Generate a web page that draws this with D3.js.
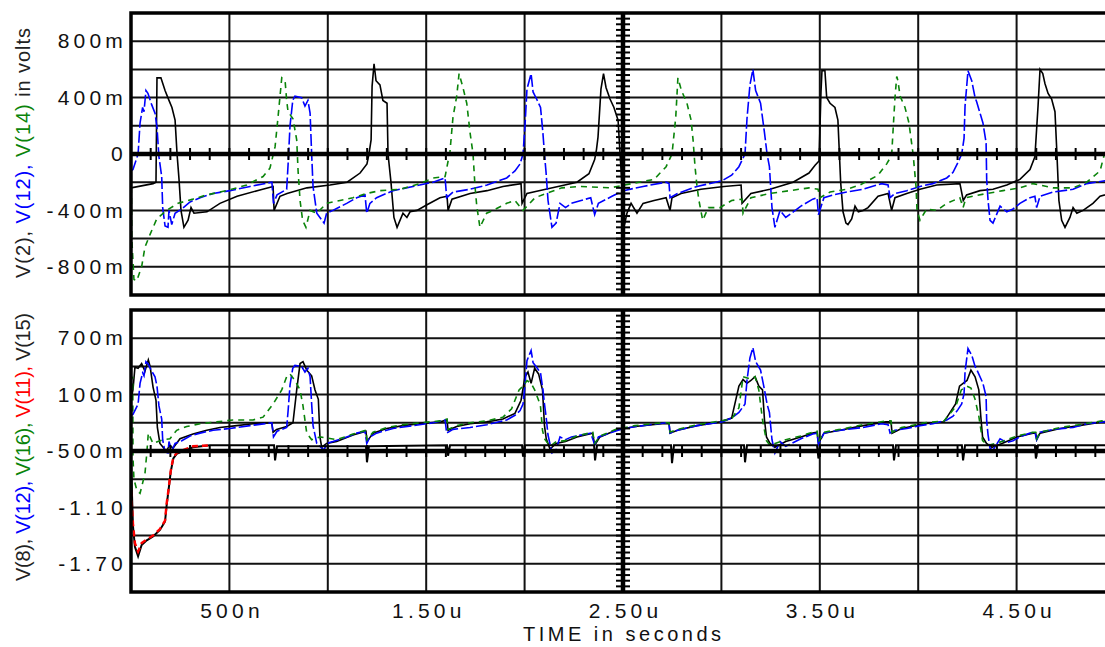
<!DOCTYPE html>
<html>
<head>
<meta charset="utf-8">
<script src="https://cdn.jsdelivr.net/npm/d3@7/dist/d3.min.js"></script>
<style>
body { margin: 0; background: #fff; }
svg { display: block; font-family: "Liberation Sans", Arial, sans-serif; }
</style>
</head>
<body>
<svg id="chart"></svg>
<script>
// time in microseconds, values in volts
const v2 = [[0,-0.24],[0.112,-0.21],[0.127,-0.20],[0.132,0.54],[0.152,0.54],[0.173,0.45],[0.193,0.38],[0.208,0.33],[0.224,0.24],[0.234,0.0],[0.244,-0.18],[0.254,-0.40],[0.269,-0.52],[0.290,-0.47],[0.305,-0.38],[0.320,-0.42],[0.386,-0.41],[0.452,-0.35],[0.539,-0.30],[0.655,-0.255],[0.722,-0.23],[0.727,-0.40],[0.757,-0.30],[0.793,-0.28],[0.894,-0.24],[1.011,-0.22],[1.098,-0.20],[1.164,-0.135],[1.199,-0.07],[1.209,0.0],[1.220,0.10],[1.225,0.48],[1.235,0.64],[1.245,0.52],[1.265,0.49],[1.280,0.38],[1.301,0.36],[1.306,0.0],[1.321,-0.20],[1.336,-0.45],[1.352,-0.52],[1.382,-0.42],[1.402,-0.45],[1.418,-0.41],[1.453,-0.40],[1.504,-0.36],[1.570,-0.31],[1.606,-0.30],[1.611,-0.40],[1.631,-0.32],[1.723,-0.28],[1.809,-0.26],[1.890,-0.23],[1.982,-0.21],[1.987,-0.35],[2.012,-0.28],[2.073,-0.26],[2.170,-0.23],[2.266,-0.20],[2.327,-0.14],[2.356,-0.04],[2.365,0.03],[2.373,0.12],[2.388,0.46],[2.401,0.57],[2.414,0.47],[2.434,0.39],[2.454,0.33],[2.475,0.24],[2.485,0.0],[2.500,-0.33],[2.508,-0.50],[2.520,-0.42],[2.541,-0.35],[2.571,-0.42],[2.602,-0.35],[2.658,-0.33],[2.719,-0.31],[2.739,-0.40],[2.749,-0.31],[2.795,-0.28],[2.896,-0.25],[3.013,-0.23],[3.100,-0.22],[3.105,-0.35],[3.150,-0.28],[3.247,-0.25],[3.364,-0.20],[3.445,-0.135],[3.476,-0.08],[3.496,-0.05],[3.506,0.44],[3.511,0.59],[3.526,0.59],[3.535,0.40],[3.552,0.36],[3.577,0.33],[3.592,0.24],[3.606,-0.20],[3.618,-0.41],[3.633,-0.49],[3.643,-0.50],[3.662,-0.46],[3.679,-0.37],[3.696,-0.41],[3.720,-0.40],[3.745,-0.38],[3.796,-0.30],[3.847,-0.28],[3.865,-0.40],[3.882,-0.31],[3.942,-0.28],[4.009,-0.25],[4.094,-0.22],[4.212,-0.21],[4.229,-0.33],[4.246,-0.29],[4.314,-0.26],[4.380,-0.25],[4.450,-0.22],[4.517,-0.18],[4.568,-0.11],[4.593,-0.02],[4.609,0.34],[4.619,0.60],[4.633,0.57],[4.644,0.50],[4.660,0.43],[4.678,0.39],[4.695,0.30],[4.704,0.03],[4.715,-0.33],[4.729,-0.47],[4.746,-0.52],[4.771,-0.45],[4.787,-0.38],[4.806,-0.42],[4.838,-0.40],[4.888,-0.35],[4.924,-0.30],[5.0,-0.27]];

const v12 = [[0,-0.12],[0.010,-0.11],[0.036,0.0],[0.046,0.22],[0.059,0.33],[0.066,0.30],[0.076,0.45],[0.086,0.43],[0.105,0.35],[0.122,0.29],[0.132,0.19],[0.142,-0.02],[0.156,-0.16],[0.161,-0.38],[0.173,-0.51],[0.188,-0.52],[0.193,-0.40],[0.207,-0.50],[0.224,-0.42],[0.258,-0.39],[0.300,-0.34],[0.351,-0.31],[0.417,-0.28],[0.503,-0.26],[0.605,-0.23],[0.716,-0.20],[0.724,-0.35],[0.742,-0.29],[0.791,-0.25],[0.798,-0.08],[0.808,0.20],[0.822,0.38],[0.833,0.41],[0.867,0.40],[0.884,0.34],[0.899,0.38],[0.910,0.29],[0.918,0.0],[0.925,-0.23],[0.944,-0.42],[0.960,-0.45],[0.981,-0.49],[0.994,-0.42],[1.026,-0.40],[1.096,-0.35],[1.147,-0.31],[1.189,-0.29],[1.198,-0.42],[1.214,-0.35],[1.248,-0.31],[1.331,-0.26],[1.433,-0.23],[1.535,-0.20],[1.596,-0.17],[1.604,-0.31],[1.636,-0.27],[1.723,-0.25],[1.809,-0.22],[1.909,-0.17],[1.951,-0.12],[1.977,-0.07],[1.992,0.0],[2.002,0.20],[2.012,0.46],[2.033,0.57],[2.043,0.44],[2.061,0.39],[2.081,0.33],[2.093,0.15],[2.101,0.0],[2.109,-0.13],[2.119,-0.33],[2.139,-0.52],[2.160,-0.49],[2.180,-0.35],[2.208,-0.38],[2.238,-0.35],[2.287,-0.33],[2.336,-0.31],[2.356,-0.43],[2.375,-0.35],[2.444,-0.30],[2.503,-0.26],[2.602,-0.23],[2.719,-0.20],[2.734,-0.21],[2.739,-0.31],[2.777,-0.28],[2.876,-0.23],[3.003,-0.19],[3.052,-0.15],[3.089,-0.09],[3.120,0.0],[3.130,0.25],[3.145,0.49],[3.160,0.60],[3.174,0.45],[3.199,0.36],[3.219,0.15],[3.232,0.0],[3.244,-0.09],[3.257,-0.38],[3.272,-0.52],[3.298,-0.40],[3.327,-0.45],[3.404,-0.37],[3.464,-0.32],[3.486,-0.31],[3.493,-0.43],[3.521,-0.31],[3.567,-0.29],[3.637,-0.27],[3.720,-0.25],[3.814,-0.21],[3.847,-0.22],[3.857,-0.31],[3.882,-0.28],[3.942,-0.26],[4.009,-0.23],[4.075,-0.21],[4.145,-0.17],[4.177,-0.13],[4.202,-0.06],[4.221,0.0],[4.233,0.11],[4.238,0.34],[4.253,0.59],[4.272,0.52],[4.289,0.40],[4.297,0.37],[4.329,0.22],[4.345,0.08],[4.348,-0.18],[4.355,-0.33],[4.365,-0.47],[4.380,-0.49],[4.416,-0.37],[4.450,-0.41],[4.482,-0.39],[4.517,-0.35],[4.568,-0.31],[4.593,-0.30],[4.602,-0.38],[4.619,-0.30],[4.685,-0.27],[4.787,-0.25],[4.856,-0.21],[4.949,-0.19],[5.0,-0.18]];

const v14 = [[0,0.0],[0.004,-0.60],[0.015,-0.89],[0.029,-0.90],[0.054,-0.80],[0.071,-0.66],[0.097,-0.57],[0.131,-0.46],[0.181,-0.40],[0.239,-0.35],[0.315,-0.32],[0.385,-0.29],[0.486,-0.26],[0.588,-0.22],[0.671,-0.16],[0.706,-0.10],[0.732,0.05],[0.747,0.26],[0.766,0.54],[0.783,0.52],[0.791,0.38],[0.798,0.30],[0.823,0.25],[0.842,0.10],[0.849,-0.12],[0.859,-0.33],[0.872,-0.47],[0.889,-0.52],[0.910,-0.40],[0.944,-0.42],[0.994,-0.35],[1.062,-0.33],[1.128,-0.31],[1.198,-0.28],[1.265,-0.26],[1.367,-0.25],[1.468,-0.21],[1.535,-0.17],[1.596,-0.16],[1.621,0.02],[1.636,0.26],[1.655,0.41],[1.667,0.57],[1.687,0.47],[1.706,0.36],[1.723,0.15],[1.738,0.0],[1.748,-0.23],[1.757,-0.37],[1.773,-0.52],[1.807,-0.42],[1.839,-0.40],[1.909,-0.35],[1.951,-0.33],[1.992,-0.40],[2.053,-0.31],[2.109,-0.28],[2.190,-0.24],[2.287,-0.23],[2.434,-0.24],[2.658,-0.18],[2.719,-0.09],[2.749,0.0],[2.768,0.26],[2.779,0.54],[2.797,0.45],[2.825,0.36],[2.846,0.24],[2.856,0.10],[2.866,-0.09],[2.876,-0.23],[2.886,-0.33],[2.905,-0.47],[2.934,-0.38],[2.993,-0.38],[3.052,-0.33],[3.105,-0.32],[3.110,-0.42],[3.150,-0.31],[3.247,-0.28],[3.347,-0.26],[3.445,-0.24],[3.491,-0.25],[3.501,-0.31],[3.552,-0.27],[3.637,-0.25],[3.704,-0.22],[3.796,-0.15],[3.840,-0.07],[3.865,-0.01],[3.872,0.16],[3.882,0.40],[3.891,0.55],[3.897,0.52],[3.908,0.41],[3.933,0.33],[3.953,0.22],[3.974,0.0],[3.989,-0.23],[3.994,-0.40],[4.009,-0.47],[4.043,-0.39],[4.094,-0.40],[4.145,-0.35],[4.212,-0.31],[4.228,-0.38],[4.243,-0.31],[4.348,-0.28],[4.431,-0.26],[4.517,-0.24],[4.583,-0.21],[4.685,-0.24],[4.787,-0.24],[4.856,-0.20],[4.924,-0.12],[4.965,0.10],[5.0,0.40]];

const v8 = [[0,0.05],[0.010,0.15],[0.020,0.39],[0.036,0.38],[0.054,0.43],[0.071,0.35],[0.088,0.47],[0.097,0.40],[0.112,0.18],[0.127,0.04],[0.134,-0.25],[0.147,-0.42],[0.163,-0.46],[0.178,-0.50],[0.198,-0.44],[0.213,-0.47],[0.249,-0.37],[0.315,-0.32],[0.385,-0.28],[0.452,-0.25],[0.537,-0.23],[0.620,-0.21],[0.715,-0.20],[0.722,-0.30],[0.740,-0.27],[0.791,-0.24],[0.823,-0.20],[0.842,0.15],[0.859,0.43],[0.874,0.45],[0.893,0.36],[0.918,0.30],[0.935,0.15],[0.952,0.05],[0.960,-0.35],[0.969,-0.46],[0.994,-0.42],[1.045,-0.40],[1.128,-0.33],[1.194,-0.29],[1.199,-0.40],[1.230,-0.31],[1.299,-0.26],[1.382,-0.23],[1.468,-0.21],[1.570,-0.19],[1.606,-0.17],[1.611,-0.28],[1.655,-0.24],[1.723,-0.21],[1.807,-0.19],[1.890,-0.16],[1.951,-0.10],[1.982,0.04],[2.002,0.29],[2.017,0.34],[2.033,0.22],[2.051,0.38],[2.071,0.32],[2.091,0.15],[2.101,-0.23],[2.110,-0.37],[2.129,-0.48],[2.160,-0.42],[2.208,-0.40],[2.266,-0.35],[2.346,-0.31],[2.356,-0.44],[2.383,-0.35],[2.464,-0.28],[2.561,-0.24],[2.698,-0.21],[2.734,-0.21],[2.739,-0.31],[2.777,-0.28],[2.876,-0.23],[2.993,-0.19],[3.052,-0.15],[3.089,0.19],[3.110,0.26],[3.130,0.22],[3.150,0.25],[3.171,0.29],[3.190,0.19],[3.209,0.15],[3.219,-0.17],[3.229,-0.35],[3.247,-0.42],[3.272,-0.46],[3.327,-0.40],[3.404,-0.35],[3.464,-0.31],[3.486,-0.30],[3.493,-0.42],[3.521,-0.31],[3.602,-0.28],[3.720,-0.23],[3.836,-0.19],[3.862,-0.19],[3.867,-0.31],[3.915,-0.26],[4.033,-0.21],[4.131,-0.19],[4.190,0.0],[4.210,0.19],[4.228,0.22],[4.248,0.25],[4.268,0.36],[4.289,0.29],[4.308,0.15],[4.318,-0.13],[4.327,-0.35],[4.347,-0.42],[4.375,-0.46],[4.426,-0.42],[4.502,-0.35],[4.583,-0.31],[4.597,-0.31],[4.602,-0.38],[4.619,-0.31],[4.721,-0.26],[4.817,-0.23],[4.934,-0.19],[5.0,-0.18]];

const v16 = [[0,0.25],[0.009,0.29],[0.010,-0.57],[0.015,-0.80],[0.030,-0.92],[0.046,-0.95],[0.071,-0.74],[0.080,-0.53],[0.088,-0.31],[0.112,-0.42],[0.137,-0.40],[0.163,-0.38],[0.198,-0.37],[0.232,-0.28],[0.283,-0.24],[0.351,-0.21],[0.435,-0.19],[0.518,-0.17],[0.620,-0.17],[0.671,-0.14],[0.722,0.0],[0.766,0.15],[0.791,0.29],[0.808,0.32],[0.833,0.25],[0.859,0.15],[0.874,-0.02],[0.893,-0.31],[0.918,-0.38],[0.960,-0.35],[1.045,-0.38],[1.128,-0.32],[1.194,-0.28],[1.199,-0.38],[1.230,-0.30],[1.299,-0.25],[1.382,-0.22],[1.468,-0.20],[1.570,-0.18],[1.606,-0.16],[1.611,-0.27],[1.655,-0.23],[1.723,-0.20],[1.807,-0.18],[1.890,-0.14],[1.934,-0.05],[1.972,0.15],[1.992,0.19],[2.012,0.25],[2.033,0.22],[2.051,0.15],[2.071,0.04],[2.081,-0.03],[2.091,-0.28],[2.101,-0.37],[2.129,-0.45],[2.160,-0.40],[2.208,-0.39],[2.266,-0.34],[2.346,-0.30],[2.356,-0.42],[2.383,-0.34],[2.464,-0.27],[2.561,-0.23],[2.698,-0.20],[2.734,-0.20],[2.739,-0.30],[2.777,-0.27],[2.876,-0.22],[2.993,-0.18],[3.052,-0.16],[3.089,-0.04],[3.110,0.29],[3.140,0.27],[3.171,0.29],[3.190,0.15],[3.209,-0.17],[3.229,-0.39],[3.247,-0.44],[3.327,-0.38],[3.404,-0.34],[3.464,-0.30],[3.486,-0.29],[3.493,-0.40],[3.521,-0.30],[3.602,-0.27],[3.720,-0.22],[3.836,-0.18],[3.862,-0.18],[3.867,-0.30],[3.915,-0.25],[4.033,-0.20],[4.131,-0.18],[4.190,-0.03],[4.219,0.15],[4.248,0.19],[4.268,0.17],[4.289,0.05],[4.308,-0.13],[4.327,-0.39],[4.355,-0.44],[4.426,-0.40],[4.502,-0.34],[4.583,-0.30],[4.597,-0.30],[4.602,-0.37],[4.619,-0.30],[4.721,-0.25],[4.817,-0.22],[4.934,-0.18],[5.0,-0.17]];

const v11 = [[0,-0.92],[0.010,-1.27],[0.020,-1.48],[0.036,-1.57],[0.054,-1.48],[0.080,-1.44],[0.112,-1.40],[0.147,-1.33],[0.173,-1.24],[0.181,-1.06],[0.190,-0.92],[0.202,-0.71],[0.215,-0.57],[0.232,-0.52],[0.264,-0.49],[0.315,-0.45],[0.401,-0.44]];

const v15 = [[0,-0.62],[0.010,-1.30],[0.020,-1.52],[0.036,-1.62],[0.054,-1.50],[0.080,-1.45],[0.112,-1.41],[0.147,-1.34],[0.173,-1.25],[0.181,-1.08],[0.190,-0.93],[0.202,-0.72],[0.215,-0.58],[0.232,-0.53],[0.264,-0.50],[0.315,-0.46],[0.401,-0.44],[0.727,-0.44],[0.732,-0.60],[0.742,-0.45],[1.194,-0.45],[1.199,-0.62],[1.209,-0.45],[1.606,-0.44],[1.611,-0.55],[1.621,-0.44],[1.987,-0.44],[1.992,-0.56],[2.002,-0.44],[2.353,-0.44],[2.358,-0.60],[2.368,-0.44],[2.744,-0.44],[2.749,-0.63],[2.759,-0.44],[3.115,-0.44],[3.120,-0.62],[3.130,-0.44],[3.486,-0.44],[3.493,-0.58],[3.501,-0.44],[3.872,-0.44],[3.877,-0.60],[3.887,-0.44],[4.222,-0.44],[4.228,-0.60],[4.238,-0.44],[4.593,-0.44],[4.598,-0.58],[4.609,-0.44],[5.0,-0.44]];

// ticks
const xTickValues = [0.5, 1.5, 2.5, 3.5, 4.5];
const xTickLabels = ["500n", "1.50u", "2.50u", "3.50u", "4.50u"];
const topTickValues = [0.8, 0.4, 0, -0.4, -0.8];
const topTickLabels = ["800m", "400m", "0", "-400m", "-800m"];
const botTickValues = [0.7, 0.1, -0.5, -1.1, -1.7];
const botTickLabels = ["700m", "100m", "-500m", "-1.10", "-1.70"];

const width = 1105, height = 647;
const labelFont = 21, labelSpacing = 4.2;
const svg = d3.select('#chart').attr('width', width).attr('height', height);
svg.append('rect').attr('width', width).attr('height', height).attr('fill', '#fff');

const x = d3.scaleLinear().domain([0, 5]).range([131, 1115]);

const panels = [
    { y: d3.scaleLinear().domain([-1, 1]).range([295, 13]), step: 0.2, axisAt: 0, minor: 0.04,
      tickValues: topTickValues, tickLabels: topTickLabels,
      series: [
          { data: v2, color: '#000', dash: null, w: 1.6 },
          { data: v12, color: '#0000ff', dash: '12,3', w: 1.6 },
          { data: v14, color: '#0a840a', dash: '6,5', w: 1.6 }
      ],
      title: [['V(2), ', '#222'], ['V(12), ', '#0000ff'], ['V(14)', '#0a840a'], [' in volts', '#222']],
      titleY: 153, titleLen: 250 },
    { y: d3.scaleLinear().domain([-2, 1]).range([592, 310]), step: 0.3, axisAt: -0.5, minor: 0.06,
      tickValues: botTickValues, tickLabels: botTickLabels,
      series: [
          { data: v8, color: '#000', dash: null, w: 1.6 },
          { data: v12, color: '#0000ff', dash: '12,3', w: 1.6 },
          { data: v16, color: '#0a840a', dash: '6,5', w: 1.6 },
          { data: v15, color: '#000', dash: null, w: 2 },
          { data: v11, color: '#ff0000', dash: '6,4', w: 2.4 }
      ],
      title: [['V(8), ', '#222'], ['V(12), ', '#0000ff'], ['V(16), ', '#0a840a'], ['V(11), ', '#ff0000'], ['V(15)', '#222']],
      titleY: 447, titleLen: 268 }
];

panels.forEach((p, i) => {
    const g = svg.append('g');
    const [y0, y1] = p.y.range();
    const clipId = 'clip' + i;
    svg.append('clipPath').attr('id', clipId)
        .append('rect').attr('x', 131).attr('y', y1).attr('width', 984).attr('height', y0 - y1);

    // grid
    const ys = d3.range(p.y.domain()[0], p.y.domain()[1] + 1e-6, p.step);
    g.selectAll('.hgrid').data(ys).enter().append('line')
        .attr('x1', 131).attr('x2', 1115)
        .attr('y1', d => p.y(d)).attr('y2', d => p.y(d))
        .attr('stroke', '#111').attr('stroke-width', 2);
    g.selectAll('.vgrid').data(d3.range(0, 5.001, 0.5)).enter().append('line')
        .attr('x1', d => x(d)).attr('x2', d => x(d))
        .attr('y1', y1).attr('y2', y0)
        .attr('stroke', '#111').attr('stroke-width', 2);

    // traces
    const line = d3.line().x(d => x(d[0])).y(d => p.y(d[1]));
    const traces = g.append('g').attr('clip-path', `url(#${clipId})`);
    p.series.forEach(s => {
        traces.append('path')
            .attr('d', line(s.data))
            .attr('fill', 'none')
            .attr('stroke', s.color)
            .attr('stroke-width', s.w)
            .attr('stroke-dasharray', s.dash);
    });

    // thick axis lines with minor ticks
    const ay = p.y(p.axisAt);
    g.append('line').attr('x1', 131).attr('x2', 1115).attr('y1', ay).attr('y2', ay)
        .attr('stroke', '#000').attr('stroke-width', 4.5);
    g.selectAll('.xminor').data(d3.range(0, 5.001, 0.1)).enter().append('line')
        .attr('x1', d => x(d)).attr('x2', d => x(d))
        .attr('y1', ay - 6).attr('y2', ay + 6)
        .attr('stroke', '#000').attr('stroke-width', 2);
    const ax = x(2.5);
    g.append('line').attr('x1', ax).attr('x2', ax).attr('y1', y1).attr('y2', y0)
        .attr('stroke', '#000').attr('stroke-width', 4.5);
    g.selectAll('.yminor').data(d3.range(p.y.domain()[0], p.y.domain()[1] + 1e-6, p.minor)).enter().append('line')
        .attr('x1', ax - 7).attr('x2', ax + 7)
        .attr('y1', d => p.y(d)).attr('y2', d => p.y(d))
        .attr('stroke', '#000').attr('stroke-width', 2);

    // frame
    g.append('rect').attr('x', 131).attr('y', y1).attr('width', 984).attr('height', y0 - y1)
        .attr('fill', 'none').attr('stroke', '#000').attr('stroke-width', 3.5);

    // y axis labels
    const yAxis = d3.axisLeft(p.y).tickValues(p.tickValues)
        .tickFormat((d, j) => p.tickLabels[j]).tickSize(0).tickPadding(4);
    const ag = svg.append('g').attr('transform', 'translate(131,0)').call(yAxis);
    ag.select('.domain').remove();
    ag.selectAll('text').attr('font-size', labelFont).attr('fill', '#111')
        .attr('letter-spacing', labelSpacing).attr('font-family', '"Liberation Sans", Arial, sans-serif');

    // y title
    const t = svg.append('text')
        .attr('transform', `translate(30,${p.titleY}) rotate(-90)`)
        .attr('text-anchor', 'middle').attr('font-size', 20)
        .attr('textLength', p.titleLen).attr('lengthAdjust', 'spacing');
    p.title.forEach(([txt, c]) => t.append('tspan').attr('fill', c).text(txt));
});

// x axis labels
const xAxis = d3.axisBottom(x).tickValues(xTickValues)
    .tickFormat((d, j) => xTickLabels[j]).tickSize(0).tickPadding(11);
const xg = svg.append('g').attr('transform', 'translate(0,592)').call(xAxis);
xg.select('.domain').remove();
xg.selectAll('text').attr('font-size', labelFont).attr('fill', '#111')
    .attr('letter-spacing', labelSpacing).attr('dx', labelSpacing / 2)
    .attr('font-family', '"Liberation Sans", Arial, sans-serif');

svg.append('text').attr('x', 622).attr('y', 641).attr('text-anchor', 'middle')
    .attr('font-size', 20).attr('fill', '#111')
    .attr('textLength', 198).attr('lengthAdjust', 'spacing')
    .text('TIME in seconds');
</script>
</body>
</html>
